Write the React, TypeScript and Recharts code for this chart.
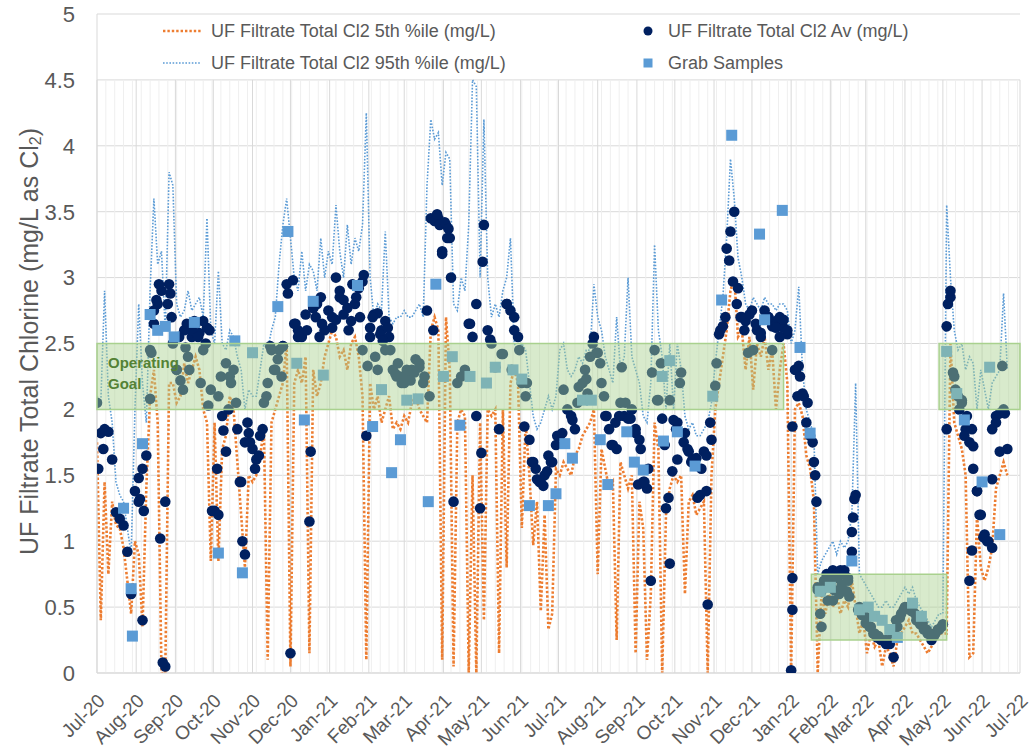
import React from "react";
import {
  ComposedChart,
  Line,
  Scatter,
  XAxis,
  YAxis,
  CartesianGrid,
  ReferenceArea,
  ReferenceLine,
} from "recharts";

const font = '"Liberation Sans", Arial, sans-serif';
const grey = "#595959";

// x axis: days since 1 Jul 2020
const monthDays = [0, 31, 62, 92, 123, 153, 184, 215, 243, 274, 304, 335, 365, 396, 427, 457, 488, 518, 549, 580, 608, 639, 669, 700, 730];
const monthLabels = [
  "Jul-20", "Aug-20", "Sep-20", "Oct-20", "Nov-20", "Dec-20", "Jan-21", "Feb-21", "Mar-21",
  "Apr-21", "May-21", "Jun-21", "Jul-21", "Aug-21", "Sep-21", "Oct-21", "Nov-21", "Dec-21",
  "Jan-22", "Feb-22", "Mar-22", "Apr-22", "May-22", "Jun-22", "Jul-22",
];
const weekDays = Array.from({ length: 104 }, (_, i) => (i + 1) * 7).filter((d) => !monthDays.includes(d));
const yTicks = [0, 0.5, 1, 1.5, 2, 2.5, 3, 3.5, 4, 4.5, 5];

// one reading every third day (day 0 .. 720)
const readDays = Array.from({ length: 241 }, (_, i) => i * 3);

// daily average, one row ~ one month
const avgValues = [
  2.05, 1.82, 1.85, 1.83, 1.62, 1.22, 1.17, 1.12, 0.92, 0.6,
  1.38, 1.3, 1.55, 1.65, 2.45, 2.65, 2.8, 2.9, 0.05, 2.95,
  2.5, 2.3, 2.22, 2.6, 2.4, 2.55, 2.65, 2.58, 2.45, 2.62,
  2.15, 1.23, 2.1, 1.95, 1.68, 2.25, 2.3, 1.85, 1.45, 0.9,
  1.82, 1.7, 1.62, 1.8, 2.05, 2.2, 2.45, 2.3, 2.45, 2.48,
  2.95, 0.15, 2.65, 2.6, 2.55, 2.72, 1.15, 2.77, 2.8, 2.85,
  2.6, 2.75, 2.7, 3.0, 2.9, 2.83, 2.77, 2.67, 2.8, 2.92,
  2.97, 1.8, 2.62, 2.72, 2.73, 2.6, 2.45, 2.55, 2.3, 2.25,
  2.25, 2.2, 2.25, 2.3, 2.38, 2.32, 2.2, 2.75, 3.45, 3.43,
  3.45, 3.2, 3.4, 3.3, 1.3, 2.2, 2.25, 2.3, 2.65, 2.55,
  2.8, 1.25, 3.4, 2.6, 2.5, 2.32, 1.85, 2.42, 2.8, 2.75,
  2.7, 2.55, 2.2, 2.1, 1.77, 1.6, 1.47, 1.45, 1.5, 1.65,
  1.6, 1.73, 1.8, 2.15, 2.0, 1.95, 1.85, 2.17, 2.2, 2.23,
  2.4, 2.55, 2.43, 2.2, 1.95, 1.85, 1.73, 1.7, 2.05, 1.95,
  1.93, 2.0, 1.82, 1.77, 1.45, 1.4, 0.7, 2.45, 2.07, 1.93,
  1.25, 2.07, 1.92, 1.9, 2.28, 1.82, 1.68, 1.62, 1.63, 1.35,
  1.68, 0.52, 1.77, 2.18, 2.57, 2.63, 3.22, 3.35, 3.5, 2.92,
  2.7, 2.67, 2.72, 2.45, 2.6, 2.55, 2.75, 2.7, 2.63, 2.67,
  2.7, 2.62, 2.57, 0.02, 2.3, 2.33, 2.12, 1.9, 1.8, 1.6,
  0.65, 0.62, 0.7, 0.72, 0.78, 0.75, 0.78, 0.78, 0.72, 1.07,
  1.35, 0.5, 0.45, 0.42, 0.35, 0.3, 0.28, 0.25, 0.25, 0.22,
  0.12, 0.35, 0.45, 0.5, 0.5, 0.47, 0.4, 0.37, 0.33, 0.3,
  0.25, 0.3, 0.33, 0.37, 1.85, 2.85, 2.25, 2.1, 2.07, 1.85,
  0.7, 1.72, 1.38, 1.2, 1.05, 1.0, 1.85, 1.95, 1.97, 2.0,
  1.7,
];

// the other daily averages, off the 3-day grid [day, value]
const avgExtra = [
  [1, 1.55], [5, 1.7], [33, 1.48], [34, 1.32], [36, 0.4], [37, 1.23], [42, 2.08], [43, 2.43],
  [45, 2.75], [47, 2.83], [49, 2.95], [50, 1.02], [52, 0.08], [54, 1.3], [56, 2.8], [58, 2.88],
  [59, 2.7], [63, 2.3], [65, 2.55], [68, 2.15], [70, 2.47], [71, 2.65], [73, 2.3], [75, 2.6],
  [77, 2.67], [80, 2.55], [82, 2.2], [84, 2.67], [86, 2.5], [88, 2.03], [89, 2.6], [91, 1.23],
  [95, 1.55], [96, 1.2], [98, 2.25], [100, 1.84], [102, 2.35], [104, 2.0], [106, 2.2], [110, 2.05],
  [113, 1.45], [115, 1.0], [117, 1.75], [119, 1.9], [121, 1.75], [125, 1.55], [128, 1.65], [131, 1.85],
  [134, 2.1], [137, 2.48], [140, 2.3], [143, 2.38], [146, 2.25], [147, 2.48], [151, 2.88], [155, 2.98],
  [157, 2.65], [159, 2.55], [162, 2.57], [166, 2.6], [169, 1.68], [171, 2.77], [173, 2.7], [176, 2.55],
  [178, 2.65], [186, 2.62], [189, 2.68], [192, 2.85], [195, 2.72], [199, 2.6], [202, 2.95], [205, 2.85],
  [208, 2.7], [210, 2.45], [211, 3.02], [214, 2.33], [216, 2.55], [218, 2.7], [220, 2.4], [222, 2.3],
  [224, 2.57], [226, 2.52], [228, 2.67], [230, 2.62], [232, 2.45], [236, 2.27], [238, 2.35], [241, 2.2],
  [245, 2.3], [248, 2.22], [251, 2.28], [255, 2.35], [259, 2.25], [263, 2.1], [266, 2.6], [269, 3.48],
  [271, 3.4], [273, 3.18], [275, 3.42], [277, 3.3], [278, 3.37], [280, 3.0], [295, 2.65], [300, 1.95],
  [304, 1.67], [305, 3.12], [311, 2.53], [320, 2.42], [324, 2.8], [328, 2.3], [330, 2.6], [334, 2.45],
  [338, 1.87], [340, 2.2], [344, 1.6], [347, 1.55], [350, 1.45], [353, 1.42], [356, 1.53], [359, 1.6],
  [364, 1.8], [368, 1.82], [376, 1.92], [380, 2.05], [386, 2.3], [388, 2.12], [392, 2.5], [395, 2.43],
  [398, 2.35], [401, 2.1], [403, 1.95], [407, 1.73], [410, 1.9], [413, 1.95], [415, 2.32], [418, 2.05],
  [422, 1.93], [426, 1.85], [428, 1.43], [430, 1.7], [433, 1.45], [436, 1.55], [439, 2.28], [443, 2.07],
  [446, 2.35], [449, 1.73], [452, 1.33], [453, 0.83], [455, 1.53], [458, 1.85], [459, 1.62], [461, 2.2],
  [464, 1.75], [467, 1.7], [470, 1.6], [475, 1.33], [478, 1.55], [482, 1.38], [482, 1.65], [485, 1.9],
  [490, 2.35], [493, 2.6], [497, 2.7], [500, 3.13], [503, 2.97], [506, 2.8], [509, 2.7], [512, 2.6],
  [515, 2.43], [518, 2.75], [521, 2.65], [525, 2.58], [531, 2.7], [534, 2.45], [537, 2.62], [540, 2.55],
  [543, 2.68], [546, 2.6], [550, 0.72], [550, 0.48], [550, 1.87], [553, 2.3], [554, 2.1], [556, 2.25],
  [559, 2.1], [562, 2.05], [566, 1.75], [568, 1.5], [569, 1.3], [570, 0.63], [572, 0.45], [573, 0.35],
  [575, 0.7], [577, 0.75], [578, 0.55], [580, 0.68], [582, 0.55], [583, 0.63], [586, 0.72], [587, 0.6],
  [589, 0.67], [591, 0.75], [593, 0.62], [594, 0.7], [595, 0.58], [597, 0.92], [598, 1.18], [599, 1.32],
  [602, 0.48], [605, 0.44], [608, 0.38], [611, 0.35], [614, 0.3], [617, 0.27], [620, 0.25], [624, 0.22],
  [629, 0.3], [632, 0.4], [635, 0.42], [638, 0.48], [641, 0.5], [644, 0.47], [647, 0.45], [650, 0.42],
  [653, 0.38], [656, 0.33], [659, 0.3], [662, 0.28], [665, 0.33], [668, 0.35], [672, 2.63], [673, 2.8],
  [675, 2.9], [677, 2.28], [679, 2.15], [682, 2.0], [684, 2.05], [686, 1.8], [688, 1.95], [690, 1.75],
  [692, 1.85], [692, 0.93], [693, 1.55], [696, 1.38], [698, 1.2], [701, 1.03], [704, 1.0], [708, 0.95],
  [708, 1.47], [711, 1.9], [714, 1.68], [716, 2.33], [718, 1.97],
];

// 5th percentile
const p5Values = [
  1.75, 0.4, 1.45, 0.75, 1.3, 1.12, 1.1, 0.95, 0.7, 0.45,
  1.0, 0.9, 0.35, 1.4, 2.1, 2.3, 1.9, 0.0, 0.0, 2.2,
  2.2, 2.05, 2.1, 2.35, 2.2, 2.3, 2.4, 2.3, 2.0, 1.9,
  0.85, 1.9, 0.85, 1.7, 1.8, 2.1, 2.0, 1.6, 1.2, 0.8,
  1.5, 1.45, 1.5, 1.65, 1.85, 0.1, 1.9, 2.0, 2.1, 2.2,
  2.5, 0.05, 2.2, 2.3, 2.2, 2.4, 0.15, 2.3, 2.1, 2.2,
  2.4, 2.5, 2.6, 2.55, 2.4, 2.45, 2.3, 2.5, 2.55, 2.4,
  2.1, 0.1, 2.2, 2.0, 2.1, 1.9, 2.0, 2.1, 1.85, 1.9,
  1.85, 1.95, 1.9, 2.05, 2.1, 2.0, 1.95, 1.9, 2.6, 2.7,
  2.6, 0.1, 2.7, 2.3, 0.05, 1.9, 2.0, 1.95, 0.0, 1.5,
  0.0, 1.9, 0.4, 2.0, 1.95, 2.0, 0.15, 2.0, 0.8, 2.2,
  2.3, 2.2, 1.1, 1.9, 1.5, 0.97, 1.3, 0.47, 1.2, 0.33,
  0.45, 1.55, 1.5, 1.6, 1.55, 1.5, 1.65, 1.7, 1.8, 1.85,
  1.9, 2.0, 0.75, 1.7, 1.55, 1.4, 1.45, 0.25, 1.6, 1.5,
  1.4, 1.5, 0.15, 1.3, 1.1, 0.1, 0.6, 1.9, 1.7, 0.0,
  1.2, 1.4, 1.5, 1.45, 1.5, 0.6, 1.3, 1.35, 1.2, 1.25,
  1.3, 0.0, 1.5, 2.0, 2.2, 2.4, 2.6, 2.9, 3.0, 2.55,
  2.6, 2.3, 2.55, 2.15, 2.5, 2.4, 2.55, 2.3, 2.45, 2.0,
  2.3, 2.5, 2.2, 0.0, 2.0, 2.05, 1.95, 1.65, 1.55, 1.3,
  0.0, 0.6, 0.45, 0.6, 0.5, 0.6, 0.45, 0.55, 0.5, 0.7,
  0.5, 0.3, 0.4, 0.15, 0.3, 0.2, 0.25, 0.05, 0.2, 0.15,
  0.05, 0.25, 0.3, 0.35, 0.4, 0.3, 0.3, 0.25, 0.2, 0.15,
  0.2, 0.25, 0.3, 0.3, 0.3, 2.5, 1.9, 1.8, 1.7, 1.5,
  0.12, 0.15, 1.2, 0.8, 0.7, 0.8, 0.95, 1.4, 1.5, 1.6,
  1.5,
];

// 95th percentile
const p95Values = [
  2.1, 2.05, 2.9, 2.1, 1.9, 1.45, 1.35, 1.3, 1.1, 0.9,
  2.0, 2.8, 2.2, 1.9, 2.9, 3.6, 3.1, 3.2, 2.6, 3.8,
  3.7, 2.8, 2.7, 2.75, 2.9, 2.75, 2.8, 2.85, 2.7, 3.45,
  2.6, 2.5, 3.05, 2.5, 2.45, 2.6, 2.55, 2.4, 2.3, 2.0,
  2.15, 2.1, 2.1, 2.3, 2.5, 2.45, 2.6, 2.7, 3.1, 3.4,
  3.6, 3.3, 3.0, 2.9, 3.2, 2.9, 3.1, 3.05, 2.9, 3.3,
  3.0, 3.2, 3.1, 3.55, 3.2, 3.0, 3.4, 3.1, 3.3, 3.2,
  3.4, 4.25, 3.0, 2.7, 2.8, 2.75, 3.35, 2.7, 2.65, 2.7,
  2.7, 2.75, 2.7, 2.7, 2.75, 2.8, 2.7, 3.7, 4.2, 4.05,
  4.1, 3.7, 3.95, 3.9, 2.8, 2.75, 3.0, 2.9, 3.4, 4.5,
  4.45, 3.0, 4.2, 3.0, 2.7, 2.8, 2.7, 2.9, 3.0, 3.3,
  2.5, 2.45, 2.5, 2.45, 2.2, 1.95, 1.85, 1.9, 2.0, 2.1,
  2.0, 2.1, 2.45, 2.5, 2.3, 2.25, 2.3, 2.4, 2.35, 2.45,
  2.45, 2.95, 2.7, 2.6, 2.4, 2.3, 2.2, 2.7, 2.3, 2.4,
  3.0, 2.4, 2.3, 2.2, 1.95, 1.9, 2.2, 3.25, 2.6, 2.4,
  2.0, 2.5, 2.0, 2.5, 2.3, 1.95, 1.85, 1.9, 1.8, 1.8,
  1.85, 1.9, 2.05, 2.35, 2.6, 2.85, 3.3, 3.9, 3.6, 3.15,
  3.0, 2.8, 2.75, 2.85, 2.8, 2.75, 2.85, 2.8, 2.8, 2.75,
  2.8, 2.8, 2.75, 2.5, 2.6, 2.93, 2.3, 2.0, 1.9, 1.8,
  0.75, 0.85, 0.9, 0.95, 1.0, 0.9, 1.0, 0.95, 1.0, 1.2,
  2.2, 0.75, 0.7, 0.65, 0.6, 0.55, 0.5, 0.5, 0.55, 0.5,
  0.5, 0.55, 0.6, 0.65, 0.6, 0.65, 0.55, 0.5, 0.45, 0.4,
  0.35, 0.4, 0.45, 0.45, 3.55, 3.0, 2.6, 2.45, 2.5, 2.3,
  2.4, 2.35, 2.0, 2.3, 2.15, 2.0, 2.2, 2.25, 2.3, 2.88,
  2.3,
];

// grab samples [day, value]
const grabSamples = [
  [21, 1.25], [27, 0.64], [28, 0.28], [36, 1.74], [42, 2.72], [48, 2.6], [54, 2.63], [61, 2.55],
  [77, 2.66], [96, 0.91], [109, 2.52], [115, 0.76], [123, 2.43], [143, 2.78], [151, 3.35], [158, 2.35],
  [164, 1.92], [171, 2.82], [179, 2.26], [206, 2.94], [218, 1.87], [225, 2.15], [233, 1.52], [240, 1.77],
  [245, 2.07], [254, 2.08], [262, 1.3], [268, 2.95], [274, 2.25], [281, 2.4], [287, 1.88], [295, 2.25],
  [308, 2.2], [315, 2.32], [329, 2.3], [336, 2.23], [342, 1.27], [357, 1.27], [363, 1.36], [370, 1.74],
  [376, 1.63], [384, 2.07], [391, 2.07], [398, 1.77], [404, 1.43], [419, 1.83], [425, 1.6], [432, 1.54],
  [447, 2.25], [448, 1.76], [453, 2.37], [459, 1.83], [473, 1.57], [487, 2.1], [494, 2.83], [502, 4.08],
  [524, 3.33], [528, 2.68], [542, 3.51], [556, 2.47], [564, 1.82], [572, 0.62], [580, 0.65], [597, 0.85],
  [603, 0.48], [610, 0.5], [615, 0.43], [621, 0.4], [627, 0.33], [633, 0.27], [645, 0.53], [652, 0.43],
  [672, 2.44], [680, 2.12], [686, 1.92], [700, 1.45], [706, 2.32], [714, 1.05],
];

// operating goal bands
const goalStart = [0, 565, 666];
const goalEnd = [543, 672, 730];
const goalLow = [2, 0.25, 2];
const goalHigh = [2.5, 0.75, 2.5];

const p5Data = readDays.map((day, i) => ({ day, value: p5Values[i] }));
const p95Data = readDays.map((day, i) => ({ day, value: p95Values[i] }));
const avgData = [
  ...readDays.map((day, i) => ({ day, value: avgValues[i] })),
  ...avgExtra.map(([day, value]) => ({ day, value })),
];
const grabData = grabSamples.map(([day, value]) => ({ day, value }));

const MonthTick = (props: any) => {
  const { x, y, payload } = props;
  const label = monthLabels[monthDays.indexOf(payload.value)];
  const ax = x + 9;
  const ay = y + 27;
  return (
    <text x={ax} y={ay} textAnchor="end" transform={`rotate(-45 ${ax} ${ay})`} fill={grey} fontSize={19} fontFamily={font}>
      {label}
    </text>
  );
};

const YTitle = (props: any) => {
  const vb = props.viewBox || { x: 0, y: 14, width: 97, height: 659 };
  const cx = vb.x + 29;
  const cy = vb.y + vb.height / 2 - 2;
  return (
    <text x={cx} y={cy} textAnchor="middle" dominantBaseline="central" transform={`rotate(-90 ${cx} ${cy})`} fill={grey} fontSize={25} fontFamily={font}>
      UF Filtrate Total Chlorine (mg/L as Cl
      <tspan fontSize={16} dy={6}>2</tspan>
      <tspan dy={-6}>)</tspan>
    </text>
  );
};

const GoalLabel = (props: any) => {
  const vb = props.viewBox;
  if (!vb) return null;
  return (
    <text fill="#548235" fontSize={15} fontWeight="bold" fontFamily={font}>
      <tspan x={vb.x + 11} y={vb.y + 24}>Operating</tspan>
      <tspan x={vb.x + 11} y={vb.y + 45}>Goal</tspan>
    </text>
  );
};

const avgDot = (p: any) => <circle cx={p.cx} cy={p.cy} r={5.3} fill="#002060" />;
const grabSquare = (p: any) => <rect x={p.cx - 5.5} y={p.cy - 5.5} width={11} height={11} fill="#5B9BD5" />;

const legendText: React.CSSProperties = { fontSize: 18, color: grey, fontFamily: font, whiteSpace: "nowrap" };

export default function App() {
  return (
    <div style={{ position: "absolute", left: 0, top: 0, width: 1033, height: 754, background: "#fff" }}>
      <ComposedChart width={1033} height={754} margin={{ top: 14, right: 13, bottom: 0, left: 0 }}>
        <CartesianGrid vertical={false} stroke="#d9d9d9" />
        {weekDays.map((d) => (
          <ReferenceLine key={"w" + d} segment={[{ x: d, y: 0 }, { x: d, y: 4.5 }]} stroke="#efefef" zIndex={-50} />
        ))}
        {monthDays.map((d) => (
          <ReferenceLine key={"m" + d} segment={[{ x: d, y: 0 }, { x: d, y: 4.5 }]} stroke="#d9d9d9" zIndex={-40} />
        ))}
        <XAxis
          type="number"
          dataKey="day"
          domain={[0, 730]}
          ticks={monthDays}
          interval={0}
          tick={<MonthTick />}
          tickLine={false}
          tickSize={0}
          axisLine={{ stroke: "#d9d9d9" }}
          height={81}
          allowDataOverflow
        />
        <YAxis
          type="number"
          domain={[0, 5]}
          ticks={yTicks}
          interval={0}
          tickLine={false}
          tickSize={0}
          tickMargin={22}
          axisLine={{ stroke: "#d9d9d9" }}
          width={97}
          tick={{ fontSize: 22, fill: grey, fontFamily: font }}
          label={<YTitle />}
          allowDataOverflow
        />
        <Line
          data={p5Data}
          dataKey="value"
          type="linear"
          stroke="#ED7D31"
          strokeWidth={2.6}
          strokeDasharray="2.4 2"
          dot={false}
          activeDot={false}
          isAnimationActive={false}
        />
        <Line
          data={p95Data}
          dataKey="value"
          type="linear"
          stroke="#5B9BD5"
          strokeWidth={1.6}
          strokeDasharray="1.6 1.6"
          dot={false}
          activeDot={false}
          isAnimationActive={false}
        />
        <Scatter data={avgData} dataKey="value" shape={avgDot} isAnimationActive={false} />
        <Scatter data={grabData} dataKey="value" shape={grabSquare} isAnimationActive={false} />
        {goalStart.map((x1, i) => (
          <ReferenceArea
            key={"g" + i}
            x1={x1}
            x2={goalEnd[i]}
            y1={goalLow[i]}
            y2={goalHigh[i]}
            fill="#A9D18E"
            fillOpacity={0.45}
            stroke="#A9D18E"
            strokeWidth={1.5}
            zIndex={700}
            label={i === 0 ? <GoalLabel /> : undefined}
          />
        ))}
      </ComposedChart>

      <div style={{ position: "absolute", left: 163, top: 20, height: 22, display: "flex", alignItems: "center", gap: 10 }}>
        <svg width={38} height={6}>
          <line x1={0} y1={3} x2={38} y2={3} stroke="#ED7D31" strokeWidth={2.4} strokeDasharray="2.4 2" />
        </svg>
        <span style={legendText}>UF Filtrate Total Cl2 5th %ile (mg/L)</span>
      </div>
      <div style={{ position: "absolute", left: 163, top: 52, height: 22, display: "flex", alignItems: "center", gap: 10 }}>
        <svg width={38} height={6}>
          <line x1={0} y1={3} x2={38} y2={3} stroke="#5B9BD5" strokeWidth={1.6} strokeDasharray="1.6 1.6" />
        </svg>
        <span style={legendText}>UF Filtrate Total Cl2 95th %ile (mg/L)</span>
      </div>
      <div style={{ position: "absolute", left: 643, top: 20, height: 22, display: "flex", alignItems: "center", gap: 15 }}>
        <svg width={10} height={10}>
          <circle cx={5} cy={5} r={4.5} fill="#002060" />
        </svg>
        <span style={legendText}>UF Filtrate Total Cl2 Av (mg/L)</span>
      </div>
      <div style={{ position: "absolute", left: 643, top: 52, height: 22, display: "flex", alignItems: "center", gap: 15 }}>
        <svg width={10} height={10}>
          <rect x={0.5} y={0.5} width={9} height={9} fill="#5B9BD5" />
        </svg>
        <span style={legendText}>Grab Samples</span>
      </div>
    </div>
  );
}
